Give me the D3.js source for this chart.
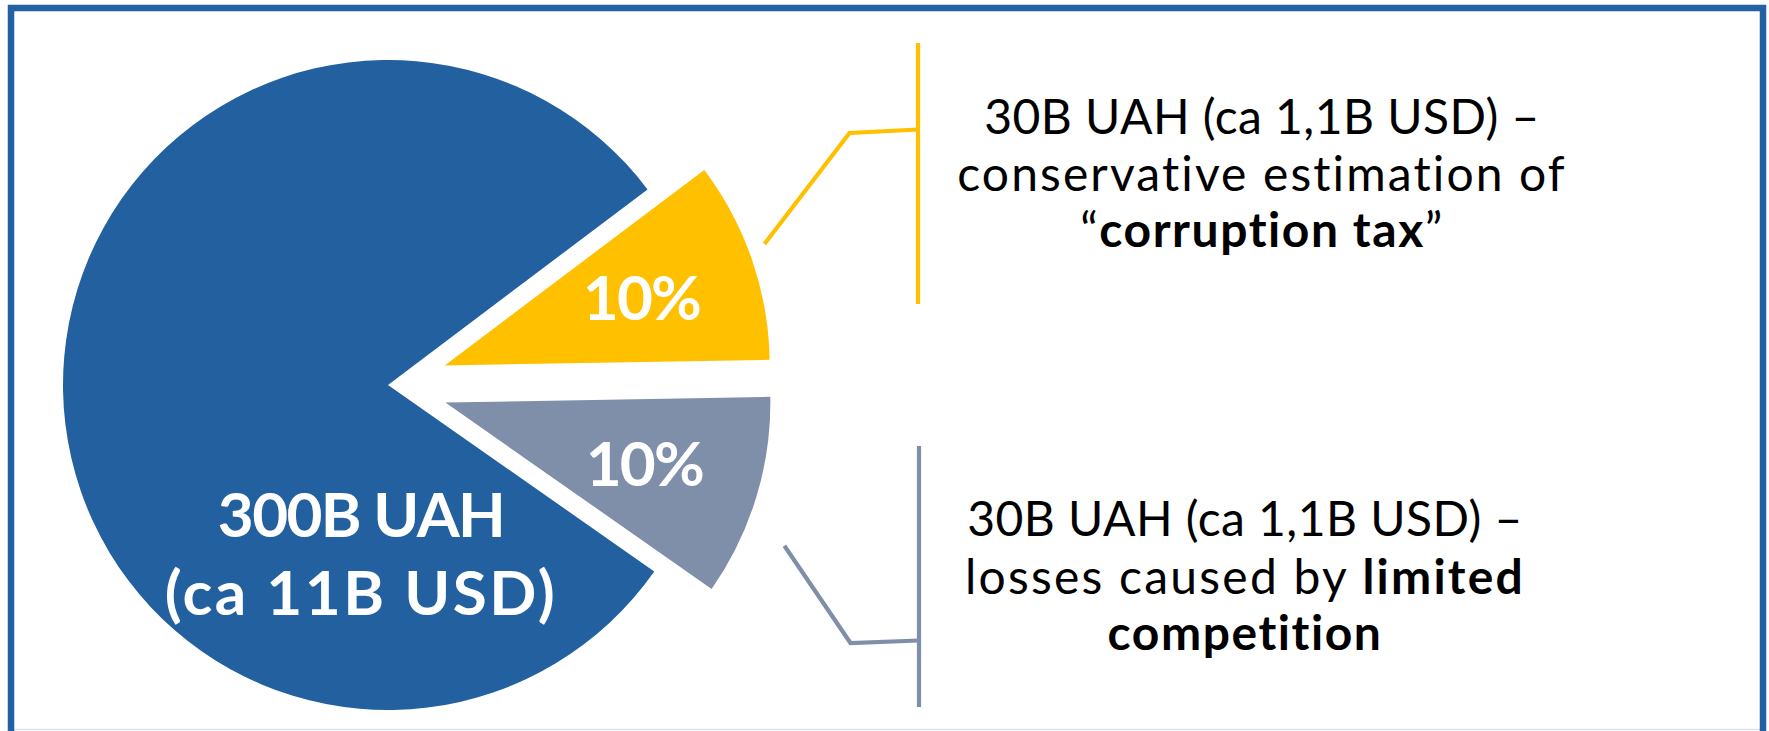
<!DOCTYPE html>
<html>
<head>
<meta charset="utf-8">
<script src="https://cdn.jsdelivr.net/npm/d3@7/dist/d3.min.js"></script>
<style>
  html, body { margin: 0; padding: 0; background: #ffffff; }
  svg { display: block; }
</style>
</head>
<body>
<svg id="chart" width="1769" height="731"></svg>
<script>
// ---------- data ----------
const categories = ["corruption tax", "limited competition", "total"];
const values = [10, 10, 80];
const colors = ["#FFC000", "#7F8FA9", "#22609F"];
const sliceLabels = ["10%", "10%", ""];
const totalLabel = ["300B UAH", "(ca 11B USD)"];
// annotation text, each line is a list of [text, bold]
const noteCorruption = [
  [["30B UAH (ca 1,1B USD) \u2013", false]],
  [["conservative estimation of", false]],
  [["\u201C", false], ["corruption tax", true], ["\u201D", false]]
];
const noteCompetition = [
  [["30B UAH (ca 1,1B USD) \u2013", false]],
  [["losses caused by ", false], ["limited", true]],
  [["competition", true]]
];

// ---------- layout ----------
const W = 1769, H = 731;
const cx = 388, cy = 385, R = 325;
const explode = 60;
const deg = Math.PI / 180;
const svg = d3.select("#chart");

// frame
svg.append("line").attr("x1", 11).attr("x2", 1763).attr("y1", 729.5).attr("y2", 729.5)
  .attr("stroke", "#d9e4f0").attr("stroke-width", 1.5);
svg.append("rect").attr("x", 11).attr("y", 8).attr("width", 1752).attr("height", 760)
  .attr("fill", "none").attr("stroke", "#2461A2").attr("stroke-width", 6.5);

const pie = d3.pie().sort(null).value(d => d).startAngle(53 * deg).endAngle(413 * deg);
const arcs = pie(values);
const arc = d3.arc().innerRadius(0).outerRadius(R);

function offsetOf(d, i) {
  if (i === 2) return [0, 0];
  const m = (d.startAngle + d.endAngle) / 2;
  return [explode * Math.sin(m), -explode * Math.cos(m)];
}

const g = svg.append("g").attr("transform", `translate(${cx},${cy})`);
g.selectAll("path.slice").data(arcs).join("path")
  .attr("class", "slice")
  .attr("d", arc)
  .attr("fill", (d, i) => colors[i])
  .attr("transform", (d, i) => { const o = offsetOf(d, i); return `translate(${o[0]},${o[1]})`; });

const FONT = "Lato, 'Open Sans', sans-serif";

function fitWidth(node, target) {
  const w = node.getComputedTextLength();
  const n = node.textContent.length;
  if (n > 1) d3.select(node).attr("letter-spacing", (target - w) / (n - 1));
}

// percentage labels
const labelArc = d3.arc().innerRadius(208).outerRadius(208);
g.selectAll("text.pct").data(arcs.slice(0, 2)).join("text")
  .attr("class", "pct")
  .attr("transform", (d, i) => {
    const o = offsetOf(d, i); const c = labelArc.centroid(d);
    return `translate(${c[0] + o[0]},${c[1] + o[1]})`;
  })
  .attr("text-anchor", "middle")
  .attr("dy", "0.36em")
  .attr("font-family", FONT).attr("font-weight", 700).attr("font-size", 62)
  .attr("fill", "#ffffff")
  .text((d, i) => sliceLabels[i])
  .each(function () { fitWidth(this, 119); });

// total label
const totalWidths = [288, 390];
g.selectAll("text.total").data(totalLabel).join("text")
  .attr("class", "total")
  .attr("x", -27).attr("y", (d, i) => 152 + i * 77.5)
  .attr("text-anchor", "middle")
  .attr("font-family", FONT).attr("font-weight", 700).attr("font-size", 62)
  .attr("fill", "#ffffff")
  .text(d => d)
  .each(function (d, i) { fitWidth(this, totalWidths[i]); });

// leader lines
const leaders = [
  { i: 0, r: 342, a: 20.8, elbow: [849.5, 133], join: [918, 129.5], bracket: [918, 43, 304] },
  { i: 1, r: 368, a: -22.9, elbow: [850.5, 643], join: [919, 640.5], bracket: [919, 446, 707] }
];
leaders.forEach(L => {
  const o = offsetOf(arcs[L.i], L.i);
  const sx = cx + o[0] + L.r * Math.cos(L.a * deg);
  const sy = cy + o[1] - L.r * Math.sin(L.a * deg);
  svg.append("path")
    .attr("d", d3.line()([[sx, sy], L.elbow, L.join]))
    .attr("fill", "none").attr("stroke", colors[L.i]).attr("stroke-width", 4.2);
  svg.append("line")
    .attr("x1", L.bracket[0]).attr("x2", L.bracket[0])
    .attr("y1", L.bracket[1]).attr("y2", L.bracket[2])
    .attr("stroke", colors[L.i]).attr("stroke-width", 4.2);
});

// notes
function drawNote(lines, x, baselines, widths) {
  lines.forEach((parts, li) => {
    const t = svg.append("text")
      .attr("x", x).attr("y", baselines[li])
      .attr("text-anchor", "middle")
      .attr("font-family", FONT).attr("font-size", 48)
      .attr("fill", "#000000");
    parts.forEach(p => {
      t.append("tspan").attr("font-weight", p[1] ? 700 : 400).text(p[0]);
    });
    fitWidth(t.node(), widths[li]);
  });
}
drawNote(noteCorruption, 1262, [133.5, 191, 247], [555, 610, 363]);
drawNote(noteCompetition, 1245, [536, 594.4, 650.3], [555, 558, 275]);
</script>
</body>
</html>
